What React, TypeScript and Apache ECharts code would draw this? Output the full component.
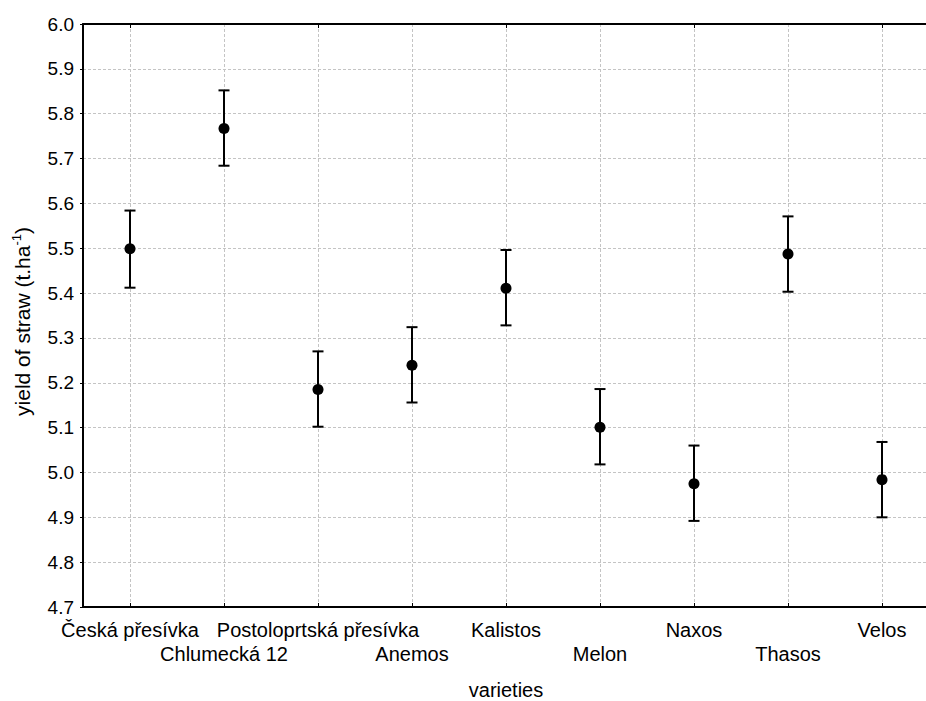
import React, { useEffect, useRef } from "react";
import * as echarts from "echarts";

const categories = [
  "Česká přesívka",
  "Chlumecká 12",
  "Postoloprtská přesívka",
  "Anemos",
  "Kalistos",
  "Melon",
  "Naxos",
  "Thasos",
  "Velos",
];
const means = [5.499, 5.767, 5.185, 5.239, 5.411, 5.101, 4.975, 5.487, 4.984];
const lower = [5.412, 5.684, 5.102, 5.156, 5.328, 5.018, 4.892, 5.403, 4.9];
const upper = [5.584, 5.852, 5.27, 5.324, 5.496, 5.186, 5.06, 5.571, 5.068];
const yMin = 4.7;
const yMax = 6.0;
const yStep = 0.1;

const FONT = "'Liberation Sans', Arial, sans-serif";

export default function App() {
  const ref = useRef<HTMLDivElement>(null);
  useEffect(() => {
    if (!ref.current) return;
    const chart = echarts.init(ref.current, null, { renderer: "svg" });
    const gridLine = { show: true, lineStyle: { color: "#c4c4c4", type: [3, 2], width: 1 } };
    const option: any = {
      animation: false,
      backgroundColor: "#fff",
      textStyle: { fontFamily: FONT, color: "#000" },
      grid: { left: 83, top: 24, width: 846, height: 583, containLabel: false, outerBoundsMode: "none" },
      xAxis: [
        {
          type: "category",
          data: categories,
          position: "bottom",
          name: "varieties",
          nameLocation: "middle",
          nameGap: 74,
          nameTextStyle: { fontFamily: FONT, fontSize: 20, lineHeight: 18, color: "#000" },
          axisLine: { show: true, onZero: false, lineStyle: { color: "#000", width: 2 } },
          axisTick: { show: true, inside: true, alignWithLabel: true, length: 4, lineStyle: { color: "#000", width: 1 } },
          splitLine: { ...gridLine, alignWithLabel: true },
          axisLabel: {
            interval: 0,
            margin: 11,
            fontFamily: FONT,
            fontSize: 20,
            lineHeight: 24,
            color: "#000",
            hideOverlap: false,
            formatter: (v: string, i: number) => (i % 2 ? "\n" + v : v),
          },
        },
        {
          type: "category",
          data: categories,
          position: "top",
          axisLine: { show: true, onZero: false, lineStyle: { color: "#000", width: 2 } },
          axisTick: { show: true, inside: true, alignWithLabel: true, length: 4, lineStyle: { color: "#000", width: 1 } },
          axisLabel: { show: false },
          splitLine: { show: false },
        },
      ],
      yAxis: [
        {
          type: "value",
          min: yMin,
          max: yMax,
          interval: yStep,
          position: "left",
          name: "{a|yield of straw (t.ha}{s|-1}{a|)}",
          nameLocation: "middle",
          nameGap: 50,
          nameTextStyle: {
            padding: [0, 12, 0, 0],
            rich: {
              a: { fontFamily: FONT, fontSize: 21, color: "#000", lineHeight: 23, verticalAlign: "bottom" },
              s: { fontFamily: FONT, fontSize: 13, color: "#000", lineHeight: 23, verticalAlign: "top" },
            },
          },
          axisLine: { show: true, onZero: false, lineStyle: { color: "#000", width: 2 } },
          axisTick: { show: true, inside: false, length: 3, lineStyle: { color: "#000", width: 1 } },
          splitLine: gridLine,
          axisLabel: {
            margin: 9,
            fontFamily: FONT,
            fontSize: 19,
            color: "#000",
            formatter: (v: number) => v.toFixed(1),
          },
        },
        {
          type: "value",
          min: yMin,
          max: yMax,
          interval: yStep,
          position: "right",
          axisLine: { show: true, onZero: false, lineStyle: { color: "#000", width: 2 } },
          axisTick: { show: true, inside: true, length: 3, lineStyle: { color: "#000", width: 1 } },
          axisLabel: { show: false },
          splitLine: { show: false },
        },
      ],
      series: [
        {
          type: "custom",
          xAxisIndex: 0,
          yAxisIndex: 0,
          data: categories.map((_, i) => [i, lower[i], upper[i]]),
          encode: { x: 0, y: [1, 2] },
          z: 3,
          renderItem: (params: any, api: any) => {
            const x = api.value(0);
            const top = api.coord([x, api.value(2)]);
            const bot = api.coord([x, api.value(1)]);
            const hw = 5.5;
            const st = { stroke: "#000", lineWidth: 2 };
            return {
              type: "group",
              children: [
                { type: "line", shape: { x1: top[0], y1: top[1], x2: bot[0], y2: bot[1] }, style: st },
                { type: "line", shape: { x1: top[0] - hw, y1: top[1], x2: top[0] + hw, y2: top[1] }, style: st },
                { type: "line", shape: { x1: bot[0] - hw, y1: bot[1], x2: bot[0] + hw, y2: bot[1] }, style: st },
              ],
            };
          },
        },
        {
          type: "scatter",
          xAxisIndex: 0,
          yAxisIndex: 0,
          data: means,
          symbol: "circle",
          symbolSize: 11,
          itemStyle: { color: "#000", opacity: 1 },
          z: 4,
        },
      ],
    };
    chart.setOption(option);
    return () => chart.dispose();
  }, []);
  return (
    <div
      ref={ref}
      style={{ position: "absolute", left: 0, top: 0, width: 926, height: 701, background: "#fff" }}
    />
  );
}
